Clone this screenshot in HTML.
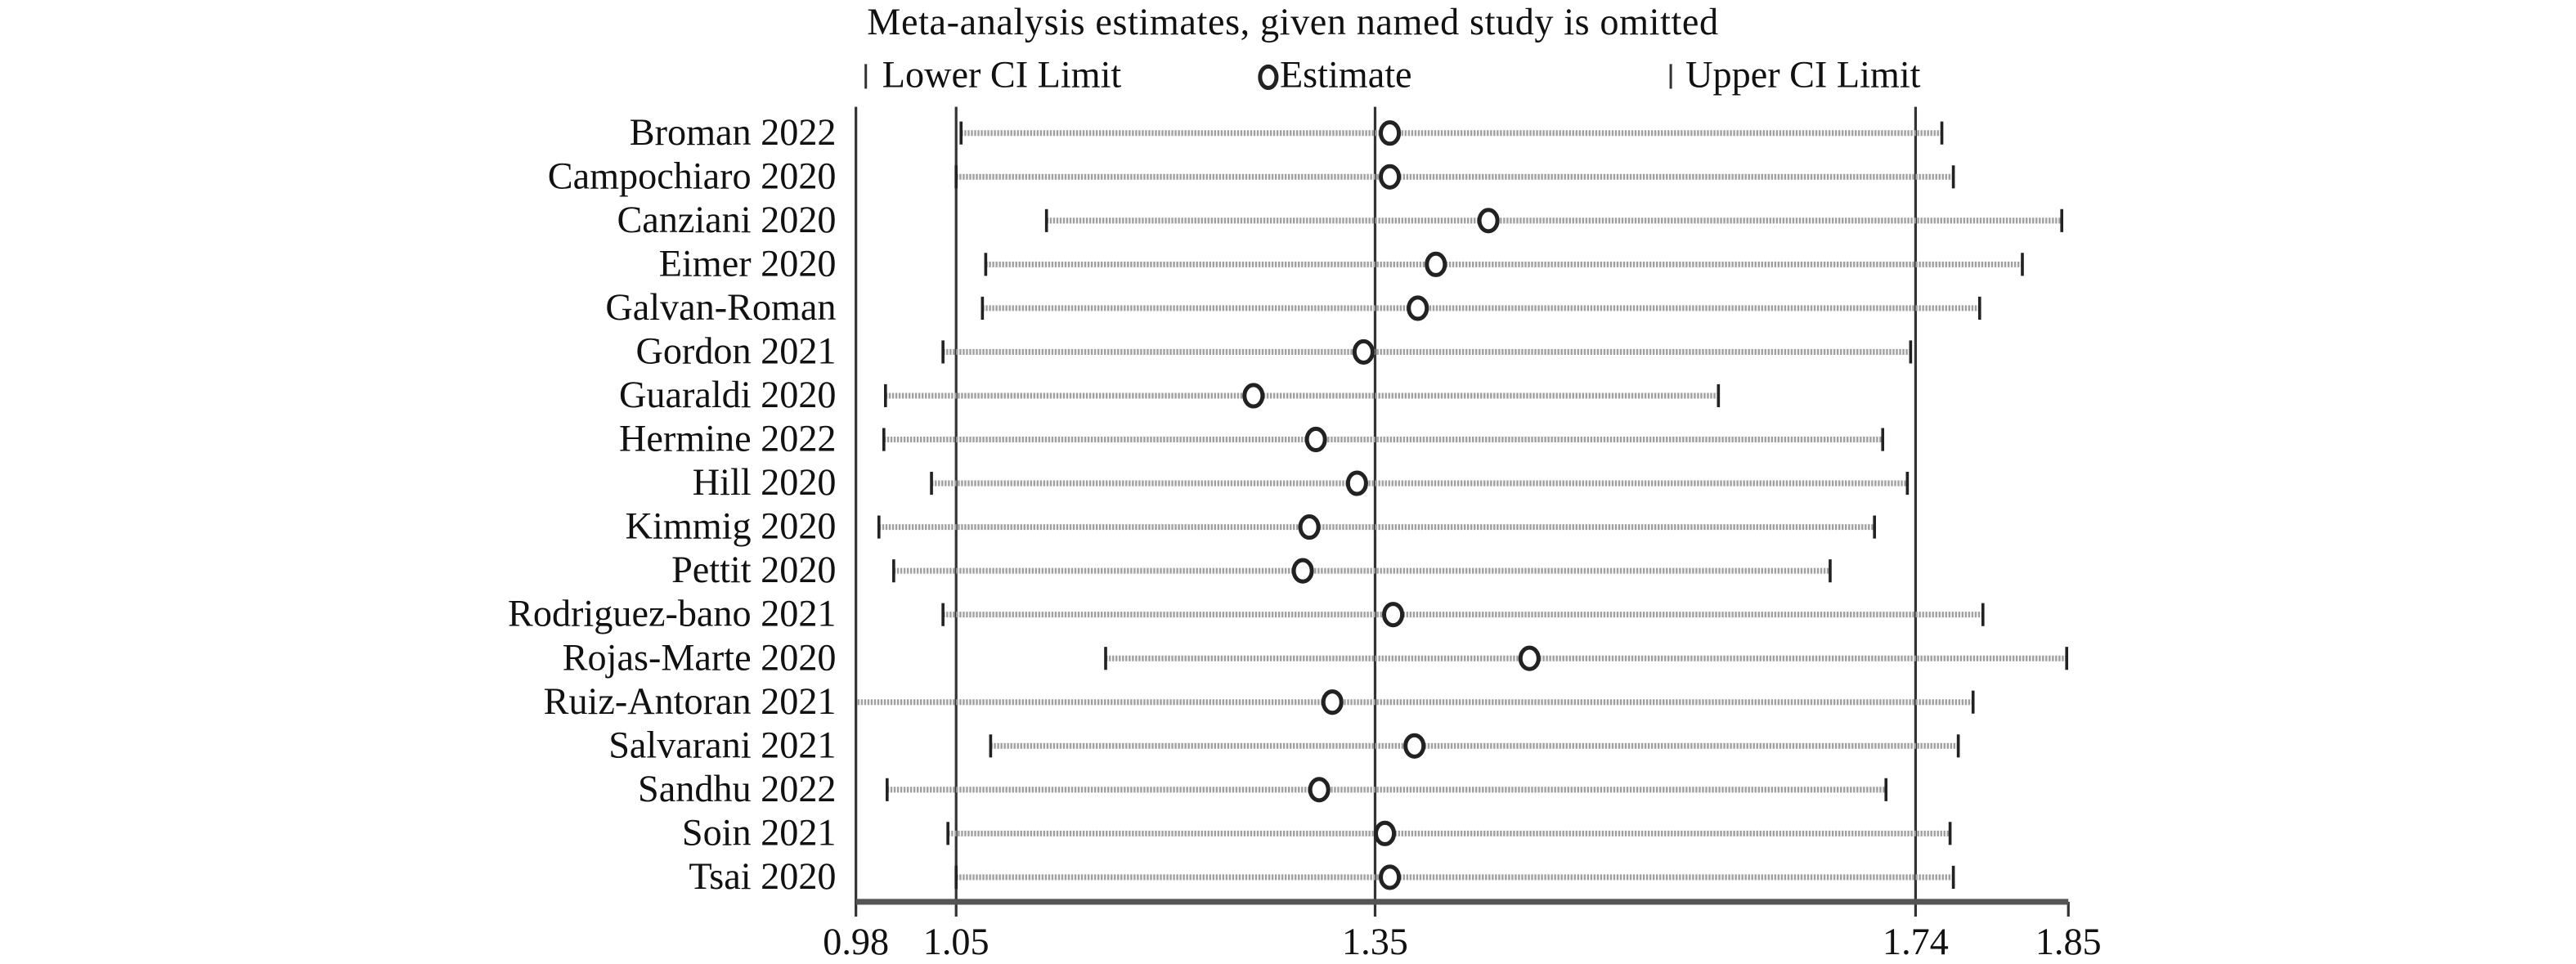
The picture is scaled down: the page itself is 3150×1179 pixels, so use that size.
<!DOCTYPE html>
<html><head><meta charset="utf-8"><style>html,body{margin:0;padding:0;background:#fff}svg{display:block}</style></head><body>
<svg width="3150" height="1179" viewBox="0 0 1568 586.86" preserveAspectRatio="none" xmlns="http://www.w3.org/2000/svg" font-family="Liberation Serif, serif" fill="#111">
<text x="787" y="21" font-size="23" text-anchor="middle" letter-spacing="0.3">Meta-analysis estimates, given named study is omitted</text>
<line x1="527" y1="39" x2="527" y2="54" stroke="#333" stroke-width="1.5"/>
<text x="537" y="53" font-size="23">Lower CI Limit</text>
<ellipse cx="772" cy="47" rx="5" ry="6.5" fill="none" stroke="#222" stroke-width="2.5"/>
<text x="779" y="53" font-size="23">Estimate</text>
<line x1="1017" y1="39" x2="1017" y2="54" stroke="#333" stroke-width="1.5"/>
<text x="1026" y="53" font-size="23">Upper CI Limit</text>
<g stroke="#333" stroke-width="1.6">
<line x1="521" y1="65" x2="521" y2="558"/>
<line x1="582" y1="65" x2="582" y2="558"/>
<line x1="837" y1="65" x2="837" y2="558"/>
<line x1="1166" y1="65" x2="1166" y2="558"/>
<line x1="1259" y1="549" x2="1259" y2="558"/>
</g>
<line x1="521" y1="549" x2="1259" y2="549" stroke="#555" stroke-width="3.5"/>
<g font-size="23" text-anchor="middle">
<text x="521" y="581">0.98</text><text x="582" y="581">1.05</text><text x="837" y="581">1.35</text><text x="1166" y="581">1.74</text><text x="1259" y="581">1.85</text>
</g>
<g font-size="23" text-anchor="end">
<text x="509" y="88">Broman 2022</text>
<text x="509" y="114.65">Campochiaro 2020</text>
<text x="509" y="141.3">Canziani 2020</text>
<text x="509" y="167.95">Eimer 2020</text>
<text x="509" y="194.6">Galvan-Roman</text>
<text x="509" y="221.25">Gordon 2021</text>
<text x="509" y="247.9">Guaraldi 2020</text>
<text x="509" y="274.55">Hermine 2022</text>
<text x="509" y="301.2">Hill 2020</text>
<text x="509" y="327.85">Kimmig 2020</text>
<text x="509" y="354.5">Pettit 2020</text>
<text x="509" y="381.15">Rodriguez-bano 2021</text>
<text x="509" y="407.8">Rojas-Marte 2020</text>
<text x="509" y="434.45">Ruiz-Antoran 2021</text>
<text x="509" y="461.1">Salvarani 2021</text>
<text x="509" y="487.75">Sandhu 2022</text>
<text x="509" y="514.4">Soin 2021</text>
<text x="509" y="541.05">Tsai 2020</text>
</g>
<g stroke="#a0a0a0" stroke-width="3.5" stroke-dasharray="1.2 0.8">
<line x1="585" y1="81" x2="1182" y2="81"/>
<line x1="582" y1="107.65" x2="1189" y2="107.65"/>
<line x1="637" y1="134.3" x2="1255" y2="134.3"/>
<line x1="600" y1="160.95" x2="1231" y2="160.95"/>
<line x1="598" y1="187.6" x2="1205" y2="187.6"/>
<line x1="574" y1="214.25" x2="1163" y2="214.25"/>
<line x1="539" y1="240.9" x2="1046" y2="240.9"/>
<line x1="538" y1="267.55" x2="1146" y2="267.55"/>
<line x1="567" y1="294.2" x2="1161" y2="294.2"/>
<line x1="535" y1="320.85" x2="1141" y2="320.85"/>
<line x1="544" y1="347.5" x2="1114" y2="347.5"/>
<line x1="574" y1="374.15" x2="1207" y2="374.15"/>
<line x1="673" y1="400.8" x2="1258" y2="400.8"/>
<line x1="522" y1="427.45" x2="1201" y2="427.45"/>
<line x1="603" y1="454.1" x2="1192" y2="454.1"/>
<line x1="540" y1="480.75" x2="1148" y2="480.75"/>
<line x1="577" y1="507.4" x2="1187" y2="507.4"/>
<line x1="582" y1="534.05" x2="1189" y2="534.05"/>
</g>
<g stroke="#222" stroke-width="1.8">
<path d="M585 74v14M1182 74v14M582 100.65v14M1189 100.65v14M637 127.3v14M1255 127.3v14M600 153.95v14M1231 153.95v14M598 180.6v14M1205 180.6v14M574 207.25v14M1163 207.25v14M539 233.9v14M1046 233.9v14M538 260.55v14M1146 260.55v14M567 287.2v14M1161 287.2v14M535 313.85v14M1141 313.85v14M544 340.5v14M1114 340.5v14M574 367.15v14M1207 367.15v14M673 393.8v14M1258 393.8v14M1201 420.45v14M603 447.1v14M1192 447.1v14M540 473.75v14M1148 473.75v14M577 500.4v14M1187 500.4v14M582 527.05v14M1189 527.05v14"/>
</g>
<g fill="#fff" stroke="#222" stroke-width="2.5">
<ellipse cx="846" cy="81" rx="5.5" ry="6.5"/>
<ellipse cx="846" cy="107.65" rx="5.5" ry="6.5"/>
<ellipse cx="906" cy="134.3" rx="5.5" ry="6.5"/>
<ellipse cx="874" cy="160.95" rx="5.5" ry="6.5"/>
<ellipse cx="863" cy="187.6" rx="5.5" ry="6.5"/>
<ellipse cx="830" cy="214.25" rx="5.5" ry="6.5"/>
<ellipse cx="763" cy="240.9" rx="5.5" ry="6.5"/>
<ellipse cx="801" cy="267.55" rx="5.5" ry="6.5"/>
<ellipse cx="826" cy="294.2" rx="5.5" ry="6.5"/>
<ellipse cx="797" cy="320.85" rx="5.5" ry="6.5"/>
<ellipse cx="793" cy="347.5" rx="5.5" ry="6.5"/>
<ellipse cx="848" cy="374.15" rx="5.5" ry="6.5"/>
<ellipse cx="931" cy="400.8" rx="5.5" ry="6.5"/>
<ellipse cx="811" cy="427.45" rx="5.5" ry="6.5"/>
<ellipse cx="861" cy="454.1" rx="5.5" ry="6.5"/>
<ellipse cx="803" cy="480.75" rx="5.5" ry="6.5"/>
<ellipse cx="843" cy="507.4" rx="5.5" ry="6.5"/>
<ellipse cx="846" cy="534.05" rx="5.5" ry="6.5"/>
</g>
</svg>
</body></html>
